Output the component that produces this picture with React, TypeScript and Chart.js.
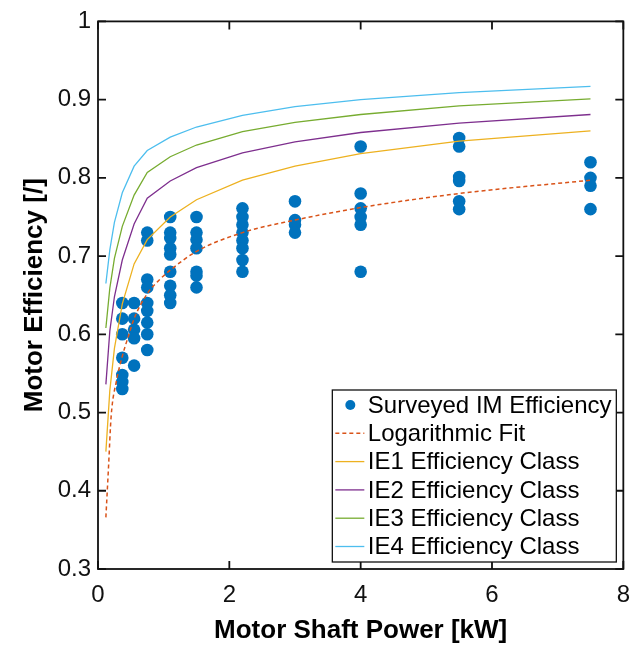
import React, { useEffect, useRef } from 'react';
import { Chart, registerables } from 'chart.js';

Chart.register(...registerables);

// Rated powers for IE efficiency class curves [kW]
const ratedPower = [0.12, 0.18, 0.25, 0.37, 0.55, 0.75, 1.1, 1.5, 2.2, 3, 4, 5.5, 7.5];
const ie1Eff = [0.45, 0.528, 0.582, 0.639, 0.69, 0.721, 0.75, 0.772, 0.797, 0.815, 0.831, 0.847, 0.86];
const ie2Eff = [0.536, 0.604, 0.648, 0.695, 0.741, 0.774, 0.796, 0.813, 0.832, 0.846, 0.858, 0.87, 0.881];
const ie3Eff = [0.608, 0.659, 0.697, 0.738, 0.778, 0.807, 0.827, 0.842, 0.859, 0.871, 0.881, 0.892, 0.901];
const ie4Eff = [0.665, 0.708, 0.743, 0.781, 0.815, 0.835, 0.852, 0.865, 0.88, 0.891, 0.9, 0.909, 0.917];

// Logarithmic fit curve
const fitPower = [0.12, 0.16, 0.2, 0.28, 0.37, 0.46, 0.55, 0.75, 0.94, 1.1, 1.5, 2.2, 3, 4, 5.5, 7.5];
const fitEff = [0.366, 0.43, 0.495, 0.54, 0.572, 0.597, 0.62, 0.652, 0.67, 0.682, 0.706, 0.73, 0.746, 0.762, 0.78, 0.797];

// Surveyed induction motor efficiencies
const surveyPower = [
  0.37, 0.37, 0.37, 0.37, 0.37, 0.37, 0.37,
  0.55, 0.55, 0.55, 0.55, 0.55,
  0.75, 0.75, 0.75, 0.75, 0.75, 0.75, 0.75, 0.75, 0.75,
  1.1, 1.1, 1.1, 1.1, 1.1, 1.1, 1.1, 1.1, 1.1,
  1.5, 1.5, 1.5, 1.5, 1.5, 1.5, 1.5,
  2.2, 2.2, 2.2, 2.2, 2.2, 2.2, 2.2, 2.2,
  3, 3, 3, 3,
  4, 4, 4, 4, 4, 4,
  5.5, 5.5, 5.5, 5.5, 5.5, 5.5,
  7.5, 7.5, 7.5, 7.5,
];
const surveyEff = [
  0.64, 0.62, 0.6, 0.57, 0.548, 0.539, 0.53,
  0.64, 0.62, 0.606, 0.595, 0.56,
  0.73, 0.72, 0.67, 0.66, 0.64, 0.63, 0.615, 0.6, 0.58,
  0.75, 0.73, 0.723, 0.71, 0.702, 0.68, 0.662, 0.65, 0.64,
  0.75, 0.73, 0.721, 0.71, 0.68, 0.675, 0.66,
  0.761, 0.75, 0.74, 0.73, 0.72, 0.71, 0.695, 0.68,
  0.77, 0.746, 0.74, 0.73,
  0.84, 0.78, 0.761, 0.75, 0.74, 0.68,
  0.851, 0.84, 0.801, 0.796, 0.77, 0.76,
  0.82, 0.8, 0.79, 0.76,
];

const xTickValues = [0, 2, 4, 6, 8];
const yTickValues = [0.3, 0.4, 0.5, 0.6, 0.7, 0.8, 0.9, 1];

const FONT = "'Liberation Sans', Arial, Helvetica, sans-serif";

const toPoints = (xs: number[], ys: number[]) => xs.map((x, i) => ({ x, y: ys[i] }));

const framePlugin = {
  id: 'matlabFrame',
  afterDatasetsDraw(chart: any) {
    const { ctx, chartArea: ca, scales } = chart;
    const xs = scales.x;
    const ys = scales.y;
    ctx.save();
    ctx.strokeStyle = '#111';
    ctx.lineWidth = 1.8;
    ctx.strokeRect(ca.left, ca.top, ca.right - ca.left, ca.bottom - ca.top);
    const tl = 8;
    ctx.beginPath();
    xTickValues.forEach((v) => {
      const px = xs.getPixelForValue(v);
      ctx.moveTo(px, ca.bottom);
      ctx.lineTo(px, ca.bottom - tl);
      ctx.moveTo(px, ca.top);
      ctx.lineTo(px, ca.top + tl);
    });
    yTickValues.forEach((v) => {
      const py = ys.getPixelForValue(v);
      ctx.moveTo(ca.left, py);
      ctx.lineTo(ca.left + tl, py);
      ctx.moveTo(ca.right, py);
      ctx.lineTo(ca.right - tl, py);
    });
    ctx.stroke();

    // Legend box inside chart area (bottom-right)
    const w = 284;
    const h = 172;
    const L = ca.right - 7 - w;
    const T = ca.bottom - 7 - h;
    ctx.fillStyle = '#fff';
    ctx.fillRect(L, T, w, h);
    ctx.lineWidth = 1.3;
    ctx.strokeStyle = '#111';
    ctx.strokeRect(L, T, w, h);
    ctx.font = `24px ${FONT}`;
    ctx.textBaseline = 'middle';
    ctx.textAlign = 'left';
    chart.data.datasets.forEach((ds: any, i: number) => {
      const y = T + 15 + i * 28.3;
      if (ds.showLine === false) {
        ctx.beginPath();
        ctx.fillStyle = ds.pointBackgroundColor;
        ctx.arc(L + 18, y, 5, 0, Math.PI * 2);
        ctx.fill();
      } else {
        ctx.beginPath();
        ctx.strokeStyle = ds.borderColor;
        ctx.lineWidth = ds.borderWidth;
        ctx.setLineDash(ds.borderDash || []);
        ctx.moveTo(L + 3, y);
        ctx.lineTo(L + 32, y);
        ctx.stroke();
        ctx.setLineDash([]);
      }
      ctx.fillStyle = '#000';
      ctx.fillText(ds.label, L + 35.5, y + 1);
    });
    ctx.restore();
  },
};

export default function App() {
  const canvasRef = useRef<HTMLCanvasElement | null>(null);

  useEffect(() => {
    if (!canvasRef.current) return;
    Chart.defaults.font.family = FONT;
    const lineDs = (label: string, ys: number[], color: string) => ({
      label,
      data: toPoints(ratedPower, ys),
      showLine: true,
      borderColor: color,
      backgroundColor: color,
      borderWidth: 1.3,
      pointRadius: 0,
      pointHoverRadius: 0,
      tension: 0,
      order: 1,
    });
    const chart = new Chart(canvasRef.current, {
      type: 'scatter',
      data: {
        datasets: [
          {
            label: 'Surveyed IM Efficiency',
            data: toPoints(surveyPower, surveyEff),
            showLine: false,
            pointRadius: 6.3,
            pointBorderWidth: 0,
            pointBackgroundColor: '#0072BD',
            backgroundColor: '#0072BD',
            borderColor: '#0072BD',
            order: 10,
          },
          {
            label: 'Logarithmic Fit',
            data: toPoints(fitPower, fitEff),
            showLine: true,
            borderColor: '#D95319',
            backgroundColor: '#D95319',
            borderWidth: 1.5,
            borderDash: [4, 3],
            pointRadius: 0,
            pointHoverRadius: 0,
            cubicInterpolationMode: 'monotone',
            order: 0,
          },
          lineDs('IE1 Efficiency Class', ie1Eff, '#EDB120'),
          lineDs('IE2 Efficiency Class', ie2Eff, '#7E2F8E'),
          lineDs('IE3 Efficiency Class', ie3Eff, '#77AC30'),
          lineDs('IE4 Efficiency Class', ie4Eff, '#4DBEEE'),
        ] as any,
      },
      options: {
        animation: false,
        responsive: false,
        devicePixelRatio: 1,
        events: [],
        layout: { padding: { left: 0, top: 16, right: 18, bottom: 0 } },
        plugins: {
          legend: { display: false },
          tooltip: { enabled: false },
        },
        scales: {
          x: {
            type: 'linear',
            min: 0,
            max: 8,
            afterFit: (s: any) => {
              s.height = 76;
            },
            afterBuildTicks: (s: any) => {
              s.ticks = xTickValues.map((v) => ({ value: v }));
            },
            grid: { display: false, drawTicks: false },
            border: { display: false },
            ticks: {
              padding: 12,
              color: '#111',
              font: { size: 24, family: FONT },
              maxRotation: 0,
              callback: (v: any) => String(v),
            },
            title: {
              display: true,
              text: 'Motor Shaft Power [kW]',
              color: '#000',
              font: { size: 26, weight: 'bold', family: FONT, lineHeight: 1 },
              padding: { top: 0, bottom: 1 },
            },
          },
          y: {
            type: 'linear',
            min: 0.3,
            max: 1,
            afterFit: (s: any) => {
              s.width = 98;
            },
            afterBuildTicks: (s: any) => {
              s.ticks = yTickValues.map((v) => ({ value: v }));
            },
            grid: { display: false, drawTicks: false },
            border: { display: false },
            ticks: {
              padding: 7,
              color: '#111',
              font: { size: 24, family: FONT },
              callback: (v: any) => String(+Number(v).toFixed(1)),
            },
            title: {
              display: true,
              text: 'Motor Efficiency [/]',
              color: '#000',
              font: { size: 26, weight: 'bold', family: FONT, lineHeight: 1.2 },
              padding: { top: 19, bottom: 0 },
            },
          },
        },
      } as any,
      plugins: [framePlugin],
    });
    return () => chart.destroy();
  }, []);

  return (
    <div style={{ position: 'absolute', left: 0, top: 0, width: 642, height: 645, background: '#fff' }}>
      <canvas ref={canvasRef} width={642} height={645} style={{ display: 'block' }} />
    </div>
  );
}
